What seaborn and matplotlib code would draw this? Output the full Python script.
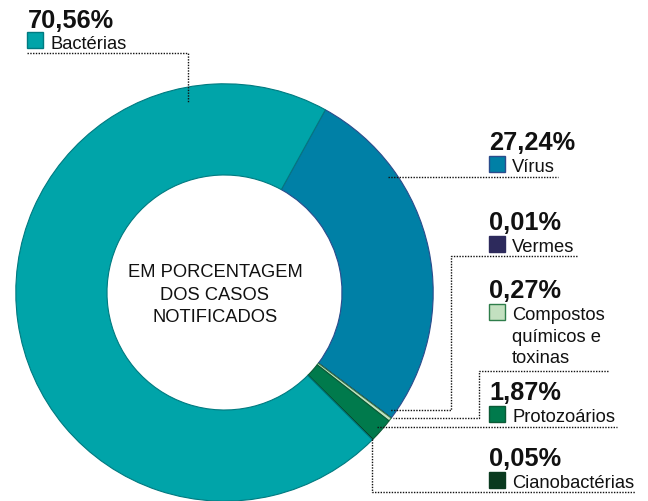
import matplotlib
matplotlib.use("Agg")
import matplotlib.pyplot as plt
import seaborn as sns
from matplotlib.patches import Rectangle

sns.set_theme(style="white")
plt.rcParams['font.family'] = ['Liberation Sans', 'DejaVu Sans']

# ---- data ----
categories = ["Vírus", "Vermes", "Compostos\nquímicos e\ntoxinas", "Protozoários", "Cianobactérias", "Bactérias"]
values = [27.24, 0.01, 0.27, 1.87, 0.05, 70.56]
pct_labels = ["27,24%", "0,01%", "0,27%", "1,87%", "0,05%", "70,56%"]
face_colors = ["#0080A6", "#2D2A5C", "#C3E0C0", "#007A4C", "#0A3A1F", "#00A4A9"]
edge_colors = ["#2B4C8C", "#2D2A5C", "#2E7D4A", "#0B5A36", "#0A3A1F", "#007A80"]

W, H = 648, 502
fig = plt.figure(figsize=(W / 100, H / 100), dpi=100)
ax = fig.add_axes([0, 0, 1, 1])

def Y(y):
    return H - y

cx, cy, R, r = 224.5, 293.5, 208.7, 117.5
wedges, _ = ax.pie(values, colors=face_colors, startangle=61.1, counterclock=False,
                   center=(cx, Y(cy)), radius=R,
                   wedgeprops=dict(width=R - r, linewidth=0.8))
for w, ec in zip(wedges, edge_colors):
    w.set_edgecolor(ec)

ax.set_xlim(0, W)
ax.set_ylim(0, H)
ax.set_aspect('auto')
ax.axis('off')

# center text
for i, line in enumerate(["EM PORCENTAGEM", "DOS CASOS", "NOTIFICADOS"]):
    ax.text(215, Y(277 + i * 22.5), line, ha='center', va='baseline',
            fontsize=13.2, color='#111111')

# label layout: (x_left, pct_baseline, square_top, name_baseline)
layout = {
    "Bactérias": (27, 28, 33, 49),
    "Vírus": (489, 150, 157, 172),
    "Vermes": (489, 230, 237, 252),
    "Compostos\nquímicos e\ntoxinas": (489, 298, 305, 320),
    "Protozoários": (489, 400, 407, 422),
    "Cianobactérias": (489, 466, 473, 488),
}
sq = 15.5
for cat, pct, fc, ec in zip(categories, pct_labels, face_colors, edge_colors):
    x0, pb, st, nb = layout[cat]
    ax.text(x0 + 0.5, Y(pb), pct, ha='left', va='baseline', fontsize=18.3,
            fontweight='bold', color='#111111')
    ax.add_patch(Rectangle((x0, Y(st + sq)), sq, sq, facecolor=fc, edgecolor=ec, linewidth=1))
    for i, line in enumerate(cat.split("\n")):
        ax.text(x0 + 23, Y(nb + i * 21.5), line, ha='left', va='baseline',
                fontsize=13.2, color='#111111')

# leader lines
leaders = [
    [(27, 54), (188, 54), (188, 104)],
    [(388, 178), (558, 178)],
    [(577, 257), (451, 257), (451, 411), (390, 411)],
    [(608, 372), (479, 372), (479, 419), (393, 419)],
    [(377, 428), (617, 428)],
    [(372, 440), (372, 493), (635, 493)],
]
for pts in leaders:
    xs = [p[0] for p in pts]
    ys = [Y(p[1]) for p in pts]
    ax.plot(xs, ys, color='#111111', linewidth=1.0, linestyle=(0, (1, 1)))

fig.savefig("out.png", dpi=100, facecolor='white')
